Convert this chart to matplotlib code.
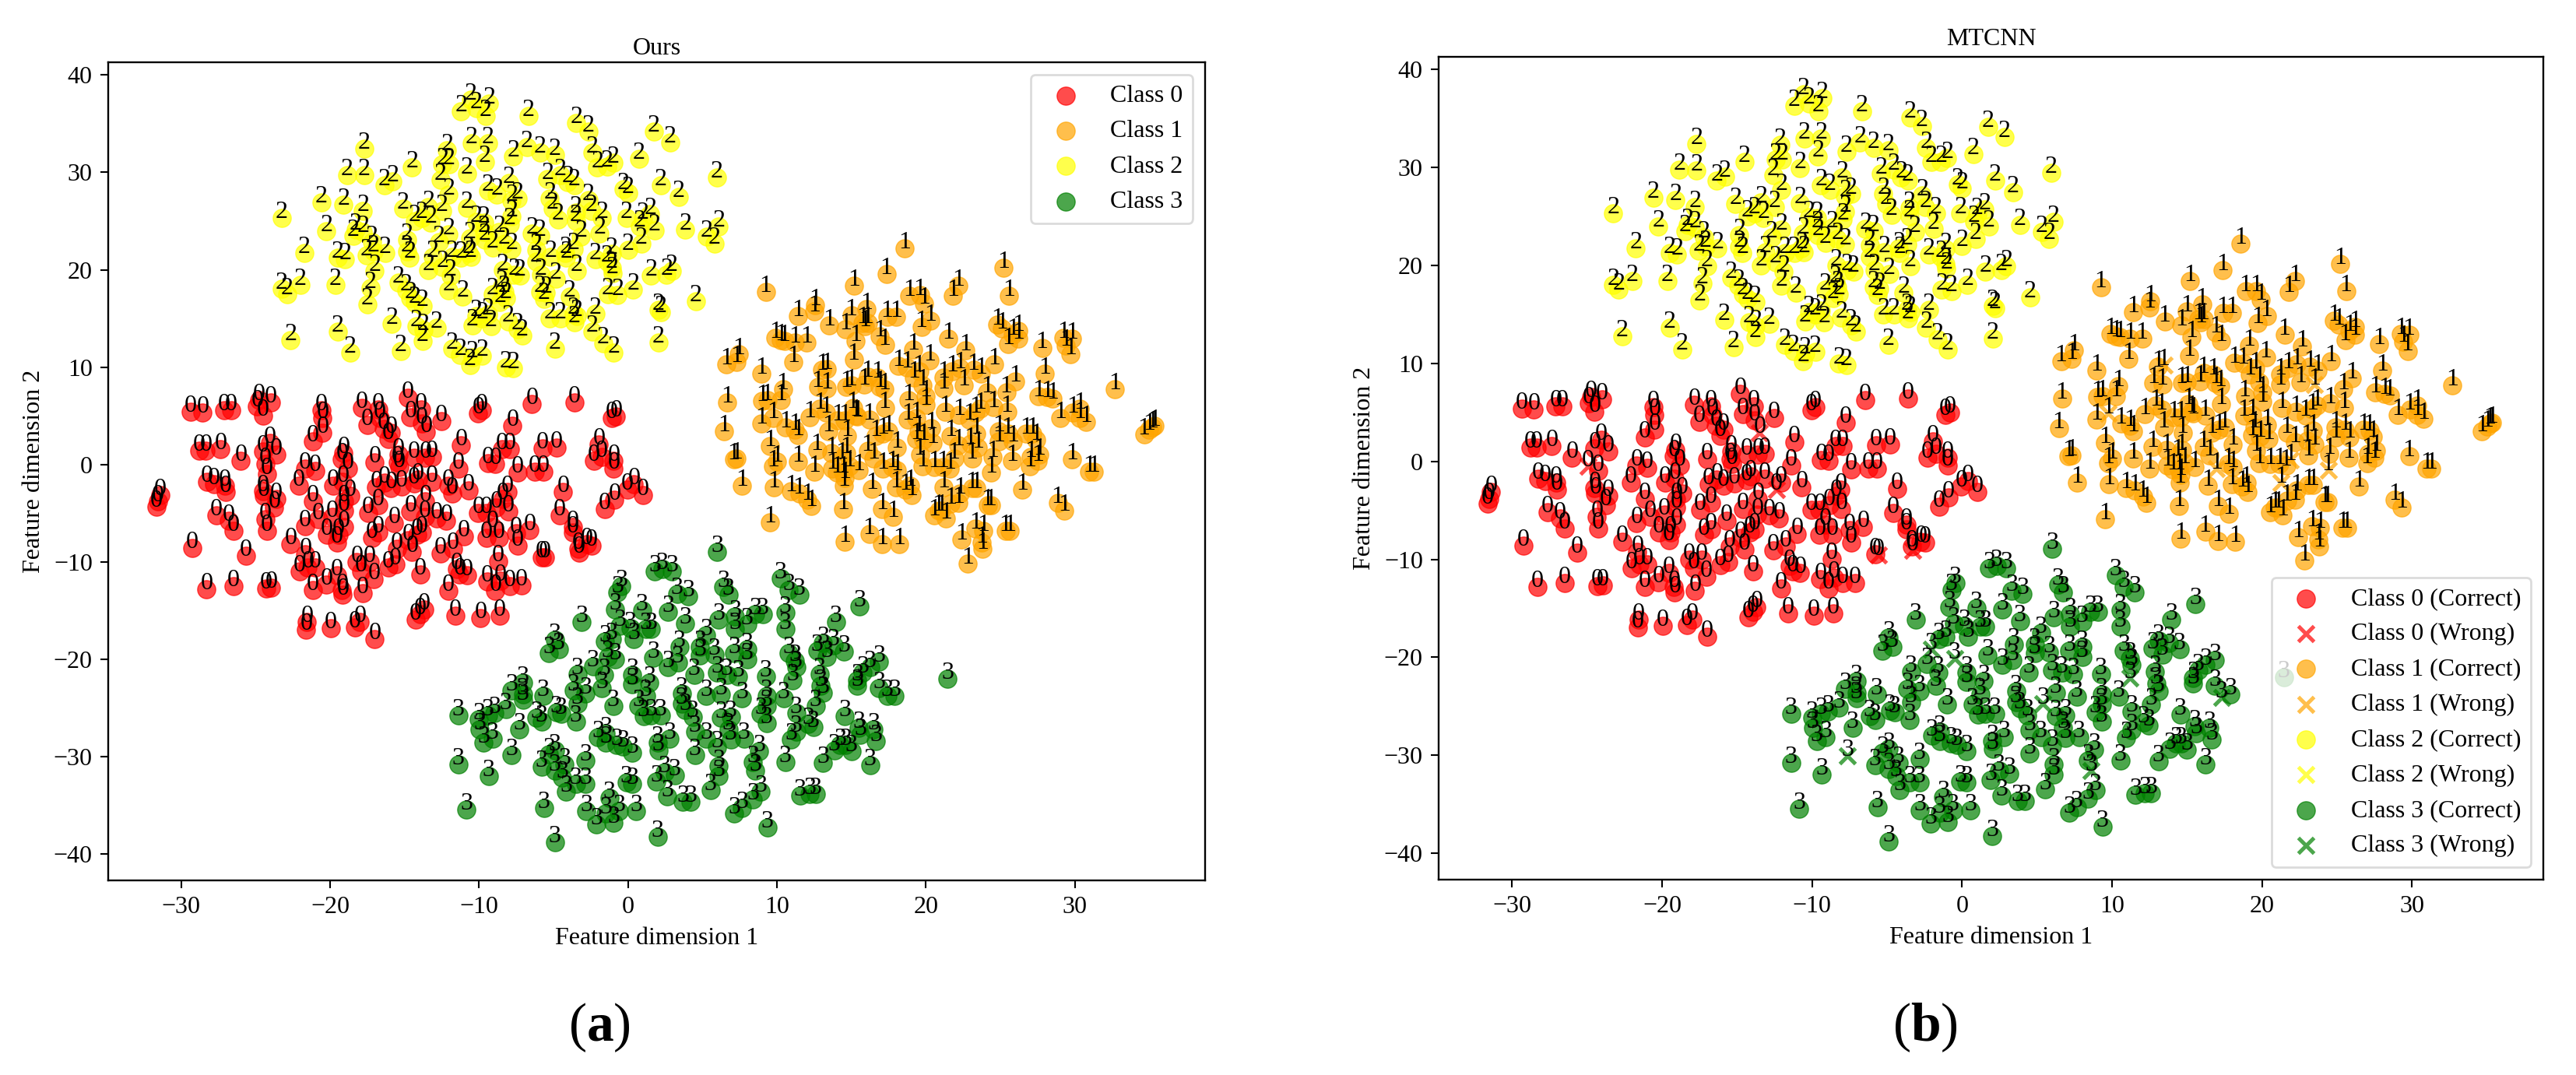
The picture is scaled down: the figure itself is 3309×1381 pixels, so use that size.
import matplotlib
matplotlib.use("Agg")
import matplotlib.pyplot as plt
import numpy as np

plt.rcParams['font.family'] = ['Liberation Serif', 'DejaVu Serif']
plt.rcParams['mathtext.fontset'] = 'custom'
plt.rcParams['mathtext.bf'] = 'Liberation Serif:bold'

class_colors = ['red', 'orange', 'yellow', 'green']

# values (feature dim 1, feature dim 2)
class0 = [(-29.35,5.4),(-28.55,5.3),(-27.1,5.6),(-26.65,5.6),(-24.75,6.6),(-24.9,5.95),(-24,6.35),(-24.5,5.05),
(-20.6,5.55),(-20.5,4.75),(-20.5,3.25),(-21.15,2.4),(-17.85,5.8),(-17.5,4.05),(-16.75,5.65),(-16.65,4.75),
(-16.4,3.65),(-15.9,3.25),(-16.1,2.6),(-14.8,6.85),(-14.6,4.85),(-13.9,5.65),(-13.85,4.2),(-13.55,3.35),
(-12.55,4.45),(-10.05,5.25),(-9.8,5.55),(-6.45,6.25),(-3.6,6.4),(-7.75,3.95),(-1.1,4.75),(-0.8,4.95),
(-24.05,2.2),(-28.8,1.4),(-28.35,1.4),(-27.35,1.6),(-26,0.35),(-24.5,1.3),(-23.6,1),(-24.35,0.05),
(-19.1,1.15),(-19.2,0.5),(-18.8,-0.45),(-17,0.2),(-15.4,1),(-15.45,0.2),(-14.35,0.7),(-13.6,0.7),
(-13.15,0.75),(-11.2,1.95),(-8.45,1.55),(-7.95,1.55),(-9.4,0.15),(-8.9,0.05),(-5.75,1.65),(-4.8,1.75),
(-1.95,2.05),(-1.75,0.75),(-2.3,0.35),(-0.95,0.35),(-0.95,-0.45),(-11.4,-0.45),(-7.4,-0.8),(-6.25,-0.7),
(-5.7,-0.7),(-21.7,-0.45),(-21,-0.65),(-24.25,-0.95),(-28.25,-1.75),(-27.8,-2),(-27.05,-2.2),(-27,-2.85),
(-22.1,-2.2),(-19.8,-2.2),(-19.15,-1.8),(-16.9,-2.3),(-16.35,-1.85),(-15.9,-2.45),(-15.35,-0.25),(-15.2,-2.25),
(-14.35,-1.9),(-14.1,-1.5),(-13.15,-1.75),(-12.05,-2.2),(-11.8,-2.95),(-10.7,-2.65),(-4.35,-2.8),(-8.1,-2.85),
(-8.4,-3.5),(-0.05,-2.6),(0.4,-2.05),(1,-3.1),(-0.9,-3.65),(-24.5,-2.7),(-24.45,-3.25),(-23.6,-3.5),
(-23.75,-4.45),(-31.4,-3.15),(-31.55,-3.8),(-31.65,-4.3),(-21.15,-3.8),(-19.05,-3.8),(-18.65,-3.25),(-19.05,-4.7),
(-16.75,-4.2),(-17.45,-4.95),(-14.6,-4.85),(-13.6,-3.8),(-13.65,-5.4),(-12.85,-5.5),(-12.2,-5.8),(-10.05,-4.95),
(-9.5,-4.95),(-8.85,-4.45),(-8.05,-4.85),(-1.55,-4.6),(-4.6,-5.25),(-27.65,-5.2),(-26.8,-5.8),(-26.5,-6.85),
(-24.35,-5.65),(-24.25,-6.85),(-21.7,-6.3),(-20.8,-5.65),(-19.85,-5.4),(-20.2,-7.25),(-19.05,-6.45),(-19.45,-7.25),
(-19.55,-8.05),(-16.75,-6.95),(-17.2,-7.5),(-15.7,-6.05),(-14.75,-7.8),(-13.85,-6.95),(-14.15,-7.25),(-11,-7.4),
(-9.5,-7.5),(-9.1,-6.45),(-8.65,-7.5),(-7.5,-7.05),(-6.6,-6.7),(-3.7,-6.45),(-3.7,-6.95),(-7.4,-8.3),
(-2.75,-8.2),(-2.45,-8.3),(-3.35,-8.65),(-22.65,-8.2),(-29.25,-8.6),(-25.65,-9.35),(-15.5,-8.65),(-14.5,-9),
(-12.6,-9.1),(-11.75,-8.65),(-5.8,-9.5),(-5.6,-9.55),(-3.3,-9.05),(-21.65,-9.25),(-8.7,-9.95),(-18.2,-10.05),(-17.35,-10.05),(-17.9,-10.95),
(-15.6,-10.25),(-16.1,-10.6),(-21.5,-10.55),(-21,-10.55),(-22.05,-10.95),(-19.55,-11.4),(-13.95,-11.25),(-11.5,-10.7),
(-10.8,-11.4),(-11.3,-11.25),(-17.05,-11.8),(-8.55,-11.9),(-9.45,-12),(-7.95,-12.45),(-7.15,-12.4),(-8.9,-12.95),
(-28.3,-12.8),(-26.5,-12.45),(-24.3,-12.7),(-23.95,-12.65),(-21.15,-12.85),(-20.25,-12.35),(-19.2,-12.85),(-19.15,-13.35),
(-17.8,-13.2),(-12.05,-12.95),(-13.7,-14.85),(-13.95,-15.4),(-14.25,-15.9),(-11.6,-15.5),(-9.9,-15.75),(-8.6,-15.5),
(-21.55,-16.15),(-21.6,-16.95),(-19.95,-16.8),(-18.35,-16.7),(-18,-16.15),(-17,-17.9)]

class1 = [(18.58,22.2),(25.2,20.2),(17.35,19.55),(9.25,17.75),(15.2,18.4),(22.2,18.4),(18.9,17.35),(19.6,17.4),
(21.8,17.3),(25.6,17.35),(19.9,16.5),(12.55,16.35),(12.5,15.7),(11.4,15.25),(16,16),(15,15.3),(17.4,15.15),(18,15.15),
(20.3,14.8),(13.5,14.3),(14.6,13.9),(15.75,14.5),(16.1,14.5),(15.9,14.2),(19.7,14.1),(24.8,14.35),(25.1,13.95),
(16.9,13.15),(21.5,12.9),(26.2,13.7),(25.85,13.3),(9.9,13),(10.25,12.8),(10.5,12.7),(11.2,12.5),(12,12.55),(15.3,12.7),
(17.25,12.3),(19.15,11.8),(25.55,12.35),(26.2,12.9),(22.65,11.7),(27.8,12),(29.25,13),(29.8,12.9),(29.4,12.2),(29.7,11.3),
(7.45,11.35),(7.3,10.5),(6.6,10.25),(11.1,10.5),(15.15,10.75),(13.35,9.8),(13.05,9.7),(18.15,10.1),(18.75,10),(20.25,10.65),
(19.55,9.55),(24.6,10.25),(21.75,9.55),(22.3,9.9),(23.2,9.7),(8.95,9.3),(23.7,9.3),(16.1,9),(16.75,8.9),(21.2,8.9),(19.2,8.9),
(28,9.3),(26,8.5),(10.4,7.7),(12.75,8),(13.35,7.85),(14.65,8),(15,8.1),(15.85,8.2),(19.8,8.1),(22.55,8.1),(16.9,8),(17.2,7.7),
(21.2,7.85),(25.4,7.4),(24.1,7.4),(20,7.05),(27.55,7.05),(28.15,6.9),(28.5,6.75),(32.7,7.75),(6.65,6.4),(9,6.55),(9.35,6.65),
(10.25,6.65),(18.85,6.65),(12.9,5.7),(15.1,5.85),(17.25,5.85),(20,6.1),(21.3,5.45),(24.55,5.9),(23.65,5.7),(23.35,5.3),(25.45,5.45),
(30.35,5.7),(12.2,4.85),(13.3,5.3),(15.3,5.05),(15.4,4.9),(16.2,4.65),(22.25,5.1),(22.9,4.65),(18.8,4.65),(19.35,4.75),(29.05,4.75),
(29.85,5.3),(9.75,4.8),(14.1,4.5),(14.55,4.5),(30.75,4.35),(30.35,4.75),(8.95,4.25),(10.6,3.85),(11.2,3.6),(13.45,3.45),(6.45,3.4),
(17.5,3.45),(20.35,3.7),(19.5,3.45),(11.4,3.05),(14.7,2.9),(16.65,2.9),(17.1,3.2),(21.65,2.9),(23.4,3.15),(19.35,2.65),(35.2,3.85),
(35,3.55),(34.65,3.1),(35.35,3.95),(25.5,3.2),(24.9,3.45),(26.75,3.2),(27.15,3.15),(27.4,2.5),(24.9,2.4),(25.85,2.4),(19.85,2.5),
(20.45,2.25),(22.2,2),(23,2.1),(23.5,1.7),(9.55,1.9),(16.1,1.45),(18.05,1.7),(19.6,1.05),(27.6,1.05),(12.7,1.5),(13.65,1.2),(14.65,1.2),
(7.1,0.5),(7.3,0.65),(10,0.3),(11.4,0.3),(16.5,0.65),(21.9,0.6),(24.5,0.8),(25.8,0.4),(27.05,0.8),(29.8,0.55),(9.75,-0.15),(14.35,0.65),
(14.85,-0.15),(23.1,0.65),(17.1,-0.4),(17.75,-0.3),(18.05,-0.55),(19.8,-0.15),(20.55,-0.3),(21.15,-0.3),(21.6,-0.4),(27.5,0.4),(27,-0.15),
(12.5,-0.7),(13.7,-0.45),(14.05,-0.8),(14.45,-0.8),(15.5,-0.6),(24.4,-0.8),(30.95,-0.75),(31.3,-0.7),(7.65,-2.15),(9.8,-2.3),(14.5,-2.15),
(18.95,-2.15),(18,-2.3),(18.65,-2.55),(21.2,-2.3),(23.1,-2.4),(23.4,-2.4),(22.3,-2.95),(10.95,-2.75),(11.5,-3),(16.4,-2.5),(26.45,-2.55),
(12.05,-3.6),(14.55,-1.35),(12.3,-4.25),(19.05,-3.1),(21.65,-4),(22.2,-3.9),(24.15,-4.15),(24.35,-4.15),(28.85,-3.9),(29.3,-4.7),(14.45,-4.55),
(17.05,-4.55),(17.8,-5.35),(20.55,-5.2),(20.85,-4.7),(21.05,-4.7),(21.35,-5.5),(9.55,-5.9),(23.35,-6.6),(23.85,-6.8),(16.2,-7.15),(14.55,-7.9),
(17.05,-8.15),(18.2,-8.2),(22.4,-7.7),(23.75,-8),(23.8,-8.65),(25.35,-6.8),(25.65,-6.8),(22.8,-10.15)]

class2 = [(-10.56,37.48),(-10.19,36.55),(-9.33,37.08),(-11.2,36.3),(-9.57,35.75),(-6.67,35.75),(-3.47,35.1),(-2.67,34.2),
(1.73,34.15),(2.83,33.1),(-17.7,32.4),(-12.14,32.3),(-10.5,32.95),(-9.4,32.95),(-7.7,31.6),(-6.8,32.55),(-5.9,32),(-4.9,31.75),
(-9.6,31.1),(-14.5,30.55),(-12.45,30.8),(-12,30.8),(-10.8,29.9),(-2.4,32),(-2.05,30.55),(-1.4,30.6),(-1,30.95),(0.75,31.35),
(-18.85,29.75),(-17.7,29.7),(-15.8,29.1),(-16.35,28.7),(-12.6,29.2),(-5.4,29.35),(-4.55,29.75),(-4.05,29),(-3.6,28.7),(-8,28.95),
(-12.05,27.75),(-9.4,28.15),(-8.8,27.75),(-7.4,27.35),(-7.8,27.1),(-5.25,27.35),(-5.05,26.3),(-0.3,28.3),(0,27.9),(2.2,28.65),
(3.4,27.5),(5.95,29.45),(-20.6,26.9),(-19.1,26.65),(-17.8,26),(-15.1,26.3),(-13.4,26.4),(-12.5,26),(-10.8,26.35),(-2.65,27.15),
(-3.5,25.9),(-2.45,26),(-1.75,25.35),(-0.1,25.35),(1.5,25.75),(1,25.25),(-4.7,25.15),(-7.8,25.5),(-7.95,24.7),(-23.25,25.3),
(-14.3,25),(-13.85,25.35),(-13.25,24.85),(-10.2,24.9),(-9.65,24.85),(-20.25,23.95),(-18.3,24.15),(-17.8,23.9),(-3.5,25),(-1.9,23.75),
(0.8,24.45),(1.8,24),(3.85,24.15),(6.1,24.45),(5.3,23.4),(-12.05,23.65),(-9.65,23.9),(-8.65,23.9),(-6.45,23.75),(-5.9,23.5),(-3.15,23.4),
(-18.45,23.5),(-17.2,22.85),(-14.85,23.1),(-10.6,23.25),(-9.6,23.1),(-12.7,22.85),(5.8,22.7),(0.9,22.7),(0,22),(-21.75,21.75),(-16.3,21.75),
(-17.1,21.9),(-14.85,21.9),(-9.1,22.3),(-8.3,22.7),(-7.8,22.15),(-6.15,22.05),(-3.65,22.15),(-4.2,21.75),(-1.1,21.65),(-17.55,21.5),
(-19.5,21.25),(-19,21.1),(-14.65,21.25),(-13.1,21.35),(-11.8,21.3),(-11.2,21.25),(-10.55,21.35),(-5.2,21.35),(-2.2,21.1),(-6.15,20.85),
(-4.15,21.25),(-1.4,20.85),(-10.7,21.75),(-13.4,20),(-12.45,20.3),(-17,19.9),(-11.9,19.4),(-8.4,20),(-7.65,19.5),(-7.25,19.4),(-5.85,19.5),
(-3.45,19.9),(-1.1,20.2),(-1.05,19.65),(1.55,19.4),(2.6,19.5),(2.95,19.9),(-15.4,18.7),(-4.85,19.1),(-23.25,18.05),(-22,18.45),(-19.65,18.45),
(-17.3,18.15),(-14.9,17.9),(-8.45,18.3),(0.35,18),(-22.9,17.5),(-12.05,17.9),(-9.1,17.5),(-8.3,17.75),(-5.9,17.75),(-5.5,17.65),(-3.9,17.25),
(-11.1,17.25),(-1.35,17.5),(-0.7,17.4),(-14.6,17.1),(-13.8,16.3),(-14.3,16.6),(-8.2,17.1),(-8.6,16.7),(-5.65,17),(4.55,16.75),(-17.5,16.45),
(-3.65,15.5),(-3.45,15.25),(2.05,15.9),(2.2,15.65),(-2.2,15.5),(-10.2,15.25),(-9.4,15.4),(-9.8,15),(-15.85,14.45),(-19.5,13.65),(-14.2,14.2),
(-12.85,14.05),(-13.75,13.8),(-8.05,14.7),(-7.4,13.9),(-10.45,14.3),(-9.2,14.2),(-5.25,15),(-4.55,15),(-3.6,14.6),(-7.1,13.25),(-2.4,13.65),
(-22.65,12.8),(-13.8,12.7),(-1.65,12.45),(2.05,12.5),(-18.65,11.45),(-15.25,11.65),(-11.8,11.9),(-11.25,11.25),(-4.9,11.9),(-9.8,11.15),
(-10.45,11),(-0.95,11.45),(-8.2,10),(-7.7,9.85),(-10.6,10.2)]

class3 = [(6,-8.95),(1.8,-10.95),(2.3,-10.7),(2.95,-10.95),(-0.45,-12.45),(10.25,-11.65),(6.4,-12.55),(6.75,-13.35),(10.8,-12.85),
(11.5,-13.35),(4.05,-13.5),(3.3,-13.25),(2.7,-15.1),(-0.7,-13.1),(-0.85,-14.85),(0.95,-14.95),(15.55,-14.55),(13.95,-16.15),(-3.1,-16.15),
(6.1,-15.9),(3.85,-16.3),(7.2,-15.6),(8.55,-15.35),(9.05,-15.35),(10.55,-15.2),(10.55,-16.85),(0.15,-16.8),(1.55,-16.85),(-0.55,-16.55),
(1.2,-16.85),(7.2,-16.85),(8,-16.4),(5.25,-17.5),(-1.1,-17.9),(-1.55,-18.15),(-4.9,-18),(-4.65,-18.95),(-5.3,-19.35),(0.4,-17.9),(4.85,-18.7),
(3.45,-18.7),(13.1,-18.3),(13.8,-18.55),(12.7,-19.1),(14.5,-19.2),(10.8,-19.35),(11.2,-20.15),(8,-18.95),(7.15,-19.35),(5.8,-19.5),(4.85,-19.6),
(8,-20),(13.35,-19.75),(-0.85,-20),(-2.35,-20.7),(-1.35,-19.75),(1.7,-19.85),(2.7,-20.8),(3.35,-20.3),(16.85,-20.25),(16.25,-20.8),(11.3,-20.8),
(-3.4,-21.5),(0.3,-21.6),(-1.6,-21.6),(4.45,-21.6),(6,-21.35),(6.65,-21.6),(7.4,-21.75),(9.25,-21.75),(12.85,-21.5),(15.75,-21.35),(15.4,-22.15),
(1.45,-22.4),(11.05,-22.15),(12.95,-22.7),(-7.05,-22.4),(-7.8,-23.2),(-7.05,-23.6),(-5.7,-23.75),(-1.75,-22.95),(-3.65,-23.2),(-2.85,-23.5),
(0.3,-22.55),(1.2,-23.75),(3.6,-23.5),(5.25,-23.75),(6.25,-23.6),(7.65,-24),(9.3,-23.75),(10.45,-24),(13.1,-23.45),(16.85,-22.95),(17.4,-23.75),
(17.9,-23.75),(15.4,-22.7),(12.6,-24.8),(0.7,-24.8),(-3.4,-24.55),(-1,-24.8),(-7.05,-24.15),(-8.2,-25.1),(-8.95,-25.5),(-9.4,-25.75),(-11.4,-25.75),
(-10,-26.15),(14.55,-25.85),(3.6,-24.55),(3.85,-25.2),(6.25,-26),(6.9,-25.9),(11.3,-25.5),(9.3,-24.8),(8.9,-25.6),(-4.8,-25.45),(-4.5,-25.6),
(-6.15,-26),(-5.8,-26.4),(-3.5,-26.4),(1.05,-25.85),(2.2,-25.75),(1.55,-25.75),(4.35,-25.9),(9.3,-26.55),(12.1,-26.65),(15.5,-27.05),(16.5,-27.2),
(-7.3,-27.2),(-9.95,-27.2),(-1.5,-27.6),(-2,-28),(4.5,-27.45),(6.75,-27.2),(11.3,-27.45),(10.95,-28.25),(12.45,-26.95),(-9.1,-28.15),(-9.7,-28.55),
(5.25,-28.15),(2.8,-28.15),(2,-28.55),(6.9,-28.25),(7.8,-28.15),(14.25,-28.8),(14.6,-28.8),(15.6,-27.75),(16.65,-28.4),(-0.75,-28.8),(-0.35,-28.95),
(-1.5,-28.55),(6,-29.05),(8.8,-29.45),(-4.9,-29.35),(-5.3,-29.75),(0.3,-29.6),(2.05,-29.35),(15,-29.45),(13.85,-29.35),(-7.8,-29.85),(-11.4,-30.8),
(-5.8,-31.05),(-4.25,-30.8),(-2.85,-30.4),(4.5,-29.85),(8.4,-30.55),(10.55,-30.55),(13.1,-30.65),(16.25,-30.9),(6.1,-30.95),(-9.35,-32),(-4.9,-31.45),
(-4.4,-32.15),(2.45,-31.6),(3.15,-31.9),(1.9,-32.55),(8.55,-31.45),(6.1,-32),(-3.5,-32.8),(-2.85,-32.8),(-0.1,-32.65),(0.3,-32.8),(5.55,-33.45),
(8.9,-33.6),(8.4,-34.4),(11.55,-34),(12.2,-33.85),(12.6,-33.85),(2.65,-34.1),(4.2,-34.65),(3.7,-34.65),(-4.15,-33.6),(-1.25,-34.25),(-10.85,-35.45),
(-5.65,-35.3),(-2.8,-35.6),(0.55,-35.6),(-0.6,-35.6),(-1.5,-35.85),(7.65,-35.3),(7.15,-35.85),(9.35,-37.3),(-2.1,-36.95),(-0.95,-36.8),(2,-38.25),
(-4.9,-38.8),(21.45,-22)]

# points MTCNN gets wrong in panel (b)
wrong0 = [(-13.5,2.94),(-3.3,-9.1),(-5.6,-9.6),(-24.95,-0.5),(-12.4,-2.9)]
wrong1 = [(9.75,4.9),(13.45,9.8),(16.95,-0.75),(21.25,-2.2),(21.9,0.15),(24.4,-0.9),(23.5,7.85)]
wrong2 = []
wrong3 = [(-7.65,-30.1),(-0.5,-20.1),(11.2,-22.1),(5.4,-24.7),(8.6,-31.6),(17.3,-24.1),(-2.05,-19.15)]

classes = [class0, class1, class2, class3]
wrongs = [wrong0, wrong1, wrong2, wrong3]

W, H = 3309, 1381
FS = 23
xlim = (-34.9, 38.75)
ylim = (-42.7, 41.3)
xticks = [-30, -20, -10, 0, 10, 20, 30]
yticks = [-40, -30, -20, -10, 0, 10, 20, 30, 40]


def make_axes(fig, left, top, right, bottom, title, pad, lpad):
    ax = fig.add_axes([left/W, 1-bottom/H, (right-left)/W, (bottom-top)/H])
    ax.set_xlim(xlim)
    ax.set_ylim(ylim)
    ax.set_xticks(xticks)
    ax.set_yticks(yticks)
    ax.tick_params(labelsize=FS, length=7.5, width=1.5, pad=7)
    for s in ax.spines.values():
        s.set_linewidth(1.7)
    ax.set_title(title, fontsize=FS, pad=pad)
    ax.set_xlabel("Feature dimension 1", fontsize=FS, labelpad=8)
    ax.set_ylabel("Feature dimension 2", fontsize=FS, labelpad=lpad)
    return ax


def style_legend(ax, loc):
    leg = ax.legend(loc=loc, fontsize=FS, scatterpoints=1)
    leg.get_frame().set_linewidth(2.0)
    leg.get_frame().set_edgecolor('lightgray')
    return leg


fig = plt.figure(figsize=(W/100, H/100), dpi=100)

# panel a
ax1 = make_axes(fig, 139, 80, 1548, 1131, "Ours", 7, 8)
for i, pts in enumerate(classes):
    arr = np.array(pts)
    ax1.scatter(arr[:, 0], arr[:, 1], c=class_colors[i], s=280, alpha=0.7, label=f"Class {i}")
    for x, y in pts:
        ax1.text(x, y, str(i), fontsize=FS, ha='center')
style_legend(ax1, 'upper right')

# panel b
ax2 = make_axes(fig, 1848, 73, 3267, 1130, "MTCNN", 11, 8)
for i, pts in enumerate(classes):
    arr = np.array(pts)
    keep = np.ones(len(arr), dtype=bool)
    for wx, wy in wrongs[i]:
        keep[np.argmin((arr[:, 0]-wx)**2 + (arr[:, 1]-wy)**2)] = False
    ax2.scatter(arr[keep, 0], arr[keep, 1], c=class_colors[i], s=280, alpha=0.7, label=f"Class {i} (Correct)")
    wr = np.array(wrongs[i]).reshape(-1, 2)
    ax2.scatter(wr[:, 0], wr[:, 1], color=class_colors[i], marker='x', s=210, linewidths=3.6,
                alpha=0.7, label=f"Class {i} (Wrong)")
    for x, y in list(arr[keep]) + list(wr):
        ax2.text(x, y, str(i), fontsize=FS, ha='center')
style_legend(ax2, 'lower right')

fig.text(770/W, 1-1320/H, r"($\mathbf{a}$)", fontsize=50, ha='center', va='center')
fig.text(2473/W, 1-1320/H, r"($\mathbf{b}$)", fontsize=50, ha='center', va='center')

fig.savefig("out.png", dpi=100)
